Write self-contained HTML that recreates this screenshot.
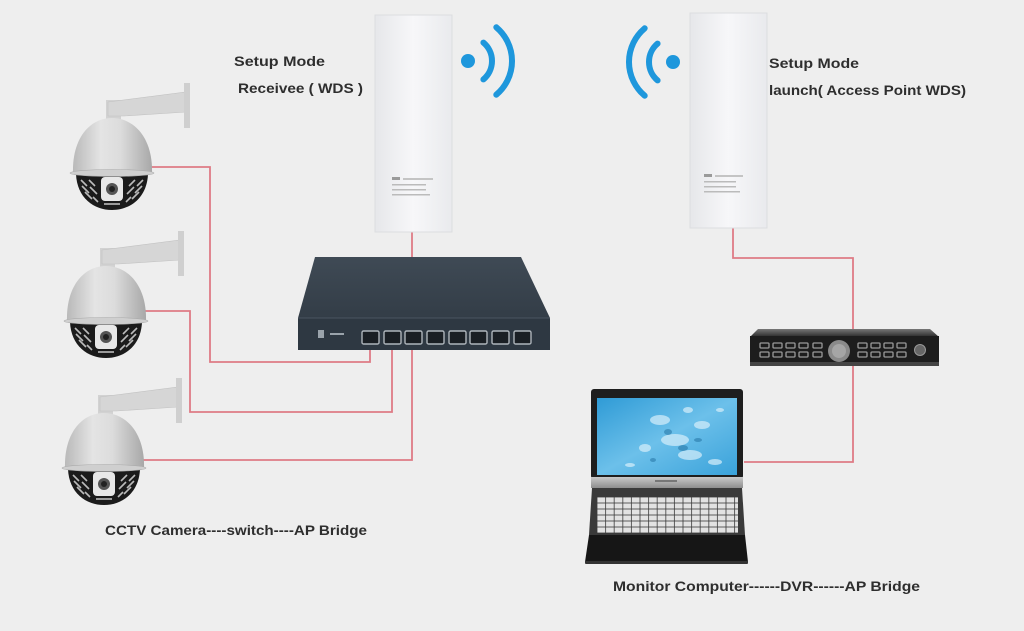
<!DOCTYPE html>
<html><head><meta charset="utf-8"><style>
html,body{margin:0;padding:0;background:#eeeeee;}
svg{display:block;}
text{font-family:"Liberation Sans",sans-serif;font-weight:bold;fill:#2e2e2e;}
</style></head><body>
<svg width="1024" height="631" viewBox="0 0 1024 631" xmlns="http://www.w3.org/2000/svg">
<defs>
  <linearGradient id="dome" x1="0" y1="0" x2="1" y2="0">
    <stop offset="0" stop-color="#b9b9b9"/>
    <stop offset="0.35" stop-color="#e4e4e4"/>
    <stop offset="0.6" stop-color="#dcdcdc"/>
    <stop offset="1" stop-color="#a8a8a8"/>
  </linearGradient>
  <linearGradient id="ap" x1="0" y1="0" x2="1" y2="0">
    <stop offset="0" stop-color="#e6e7ea"/>
    <stop offset="0.5" stop-color="#f7f7f9"/>
    <stop offset="1" stop-color="#e9eaed"/>
  </linearGradient>
  <linearGradient id="swtop" x1="0" y1="0" x2="0" y2="1">
    <stop offset="0" stop-color="#3f4a55"/>
    <stop offset="1" stop-color="#333d47"/>
  </linearGradient>
  <linearGradient id="screen" x1="0" y1="0" x2="1" y2="1">
    <stop offset="0" stop-color="#2f9bd6"/>
    <stop offset="0.5" stop-color="#6cc0ea"/>
    <stop offset="1" stop-color="#3aa2da"/>
  </linearGradient>
  <linearGradient id="silver" x1="0" y1="0" x2="0" y2="1">
    <stop offset="0" stop-color="#c9c9c9"/>
    <stop offset="1" stop-color="#8e8e8e"/>
  </linearGradient>
  <linearGradient id="dvrtop" x1="0" y1="0" x2="0" y2="1">
    <stop offset="0" stop-color="#777"/>
    <stop offset="1" stop-color="#2a2a2a"/>
  </linearGradient>
  <pattern id="keys" x="597" y="497" width="8.6" height="6" patternUnits="userSpaceOnUse">
    <rect x="0.4" y="0.4" width="7.8" height="5.2" fill="#e2e2e2"/>
  </pattern>
  <g id="cam">
    <rect x="-6" y="-72" width="15" height="20" fill="#d2d2d2"/>
    <polygon points="-4,-70 74,-80 74,-60 12,-56 -4,-56" fill="#d6d6d6" stroke="#c2c2c2" stroke-width="0.6"/>
    <rect x="72" y="-89" width="6" height="45" fill="#cfcfcf"/>
    <path d="M -36 2 C -35 26 -18 38 0 38 C 18 38 35 26 36 2 Z" fill="#1b1b1b"/>
    <g stroke="#d8d8d8" stroke-width="1.6" opacity="0.85">
      <line x1="-31" y1="8" x2="-25" y2="14"/><line x1="-30" y1="14" x2="-23" y2="21"/>
      <line x1="-27" y1="20" x2="-20" y2="27"/><line x1="-23" y1="8" x2="-17" y2="14"/>
      <line x1="-22" y1="15" x2="-15" y2="22"/><line x1="-19" y1="25" x2="-14" y2="30"/>
      <line x1="31" y1="8" x2="25" y2="14"/><line x1="30" y1="14" x2="23" y2="21"/>
      <line x1="27" y1="20" x2="20" y2="27"/><line x1="23" y1="8" x2="17" y2="14"/>
      <line x1="22" y1="15" x2="15" y2="22"/><line x1="19" y1="25" x2="14" y2="30"/>
      <line x1="-8" y1="32" x2="8" y2="32"/>
    </g>
    <path d="M -39 1 C -40 -34 -22 -54 0 -54 C 22 -54 41 -34 40 1 Z" fill="url(#dome)"/>
    <ellipse cx="0" cy="1" rx="42" ry="3.5" fill="#cfcfcf" stroke="#aaa" stroke-width="0.6"/>
    <rect x="-11" y="5" width="22" height="24" rx="4" fill="#e8e8e8"/>
    <circle cx="0" cy="17" r="6" fill="#555"/>
    <circle cx="0" cy="17" r="3" fill="#222"/>
  </g>
</defs>

<rect width="1024" height="631" fill="#eeeeee"/>

<g fill="none" stroke="#de7b85" stroke-width="1.8">
  <polyline points="150,167 210,167 210,362 370,362 370,348"/>
  <polyline points="144,311 190,311 190,412 392,412 392,348"/>
  <polyline points="142,460 412,460 412,348"/>
  <line x1="412" y1="232" x2="412" y2="258"/>
  <polyline points="733,228 733,258 853,258 853,332"/>
  <polyline points="853,366 853,462 744,462"/>
</g>

<rect x="375" y="15" width="77" height="217" fill="url(#ap)" stroke="#dcdde0" stroke-width="1"/>
<g>
  <rect x="392" y="177" width="8" height="3" fill="#9a9a9a"/><rect x="403" y="178" width="30" height="2" fill="#c4c4c4"/>
  <rect x="392" y="184" width="34" height="1.5" fill="#bbb"/>
  <rect x="392" y="189" width="34" height="1.5" fill="#bbb"/>
  <rect x="392" y="194" width="38" height="1.5" fill="#bbb"/>
</g>
<rect x="690" y="13" width="77" height="215" fill="url(#ap)" stroke="#dcdde0" stroke-width="1"/>
<g>
  <rect x="704" y="174" width="8" height="3" fill="#9a9a9a"/><rect x="715" y="175" width="28" height="2" fill="#c4c4c4"/>
  <rect x="704" y="181" width="32" height="1.5" fill="#bbb"/>
  <rect x="704" y="186" width="32" height="1.5" fill="#bbb"/>
  <rect x="704" y="191" width="36" height="1.5" fill="#bbb"/>
</g>

<g fill="none" stroke="#1e97dc" stroke-width="6" stroke-linecap="round">
  <circle cx="468" cy="61" r="7" fill="#1e97dc" stroke="none"/>
  <path d="M 483.4 42.6 A 24 24 0 0 1 483.4 79.4"/>
  <path d="M 496.3 27.3 A 44 44 0 0 1 496.3 94.7"/>
</g>
<g fill="none" stroke="#1e97dc" stroke-width="6" stroke-linecap="round">
  <circle cx="673" cy="62" r="7" fill="#1e97dc" stroke="none"/>
  <path d="M 657.6 43.6 A 24 24 0 0 0 657.6 80.4"/>
  <path d="M 644.7 28.3 A 44 44 0 0 0 644.7 95.7"/>
</g>

<polygon points="315,257 521,257 550,318 298,318" fill="url(#swtop)"/>
<rect x="298" y="318" width="252" height="32" fill="#2e3842"/>
<line x1="298" y1="318" x2="550" y2="318" stroke="#4a5560" stroke-width="1"/>
<g fill="#9aa3ab"><rect x="318" y="330" width="6" height="8"/><rect x="330" y="333" width="14" height="2"/></g>
<g fill="#1a1f24" stroke="#aeb5bb" stroke-width="1.4">
  <rect x="362" y="331" width="17" height="13" rx="1.5"/>
  <rect x="384" y="331" width="17" height="13" rx="1.5"/>
  <rect x="405" y="331" width="17" height="13" rx="1.5"/>
  <rect x="427" y="331" width="17" height="13" rx="1.5"/>
  <rect x="449" y="331" width="17" height="13" rx="1.5"/>
  <rect x="470" y="331" width="17" height="13" rx="1.5"/>
  <rect x="492" y="331" width="17" height="13" rx="1.5"/>
  <rect x="514" y="331" width="17" height="13" rx="1.5"/>
</g>

<use href="#cam" x="112" y="172"/>
<use href="#cam" x="106" y="320"/>
<use href="#cam" x="104" y="467"/>

<polygon points="758,329 930,329 939,337 750,337" fill="url(#dvrtop)"/>
<rect x="750" y="336" width="189" height="30" fill="#1d1d1d"/>
<g fill="none" stroke="#9a9a9a" stroke-width="1.3">
  <rect x="760" y="343" width="9" height="5" rx="1"/><rect x="773" y="343" width="9" height="5" rx="1"/><rect x="786" y="343" width="9" height="5" rx="1"/><rect x="799" y="343" width="9" height="5" rx="1"/><rect x="813" y="343" width="9" height="5" rx="1"/>
  <rect x="760" y="352" width="9" height="5" rx="1"/><rect x="773" y="352" width="9" height="5" rx="1"/><rect x="786" y="352" width="9" height="5" rx="1"/><rect x="799" y="352" width="9" height="5" rx="1"/><rect x="813" y="352" width="9" height="5" rx="1"/>
  <rect x="858" y="343" width="9" height="5" rx="1"/><rect x="871" y="343" width="9" height="5" rx="1"/><rect x="884" y="343" width="9" height="5" rx="1"/><rect x="897" y="343" width="9" height="5" rx="1"/>
  <rect x="858" y="352" width="9" height="5" rx="1"/><rect x="871" y="352" width="9" height="5" rx="1"/><rect x="884" y="352" width="9" height="5" rx="1"/><rect x="897" y="352" width="9" height="5" rx="1"/>
</g>
<circle cx="839" cy="351" r="11" fill="#8a8a8a"/>
<circle cx="839" cy="351" r="7" fill="#a5a5a5"/>
<circle cx="920" cy="350" r="5.5" fill="#666" stroke="#999" stroke-width="1"/>
<rect x="750" y="362" width="189" height="4" fill="#444"/>

<rect x="591" y="389" width="152" height="90" rx="3" fill="#1e1e1e"/>
<rect x="597" y="398" width="140" height="77" fill="url(#screen)"/>
<g fill="#d7effb" opacity="0.7">
  <ellipse cx="660" cy="420" rx="10" ry="5"/>
  <ellipse cx="675" cy="440" rx="14" ry="6"/>
  <ellipse cx="690" cy="455" rx="12" ry="5"/>
  <ellipse cx="702" cy="425" rx="8" ry="4"/>
  <ellipse cx="645" cy="448" rx="6" ry="4"/>
  <ellipse cx="688" cy="410" rx="5" ry="3"/>
  <ellipse cx="715" cy="462" rx="7" ry="3"/>
  <ellipse cx="630" cy="465" rx="5" ry="2"/>
  <ellipse cx="720" cy="410" rx="4" ry="2"/>
</g>
<g fill="#1f6e9e" opacity="0.5">
  <ellipse cx="668" cy="432" rx="4" ry="3"/><ellipse cx="683" cy="448" rx="5" ry="3"/><ellipse cx="698" cy="440" rx="4" ry="2"/><ellipse cx="653" cy="460" rx="3" ry="2"/>
</g>
<rect x="591" y="477" width="152" height="11" fill="url(#silver)"/>
<rect x="655" y="480" width="22" height="2" fill="#777"/>
<polygon points="592,488 742,488 745,535 589,535" fill="#3a3a3a"/>
<rect x="597" y="497" width="141" height="36" fill="url(#keys)"/>
<polygon points="589,535 745,535 748,562 585,562" fill="#161616"/>
<rect x="585" y="561" width="163" height="3" rx="1" fill="#333"/>

<text x="234" y="66" font-size="14" textLength="91" lengthAdjust="spacingAndGlyphs">Setup Mode</text>
<text x="238" y="93" font-size="14" textLength="125" lengthAdjust="spacingAndGlyphs">Receivee ( WDS )</text>
<text x="769" y="68" font-size="14" textLength="90" lengthAdjust="spacingAndGlyphs">Setup Mode</text>
<text x="769" y="95" font-size="14" textLength="197" lengthAdjust="spacingAndGlyphs">launch( Access Point WDS)</text>
<text x="105" y="535" font-size="14" textLength="262" lengthAdjust="spacingAndGlyphs">CCTV Camera----switch----AP Bridge</text>
<text x="613" y="591" font-size="14" textLength="307" lengthAdjust="spacingAndGlyphs">Monitor Computer------DVR------AP Bridge</text>
</svg>
</body></html>
